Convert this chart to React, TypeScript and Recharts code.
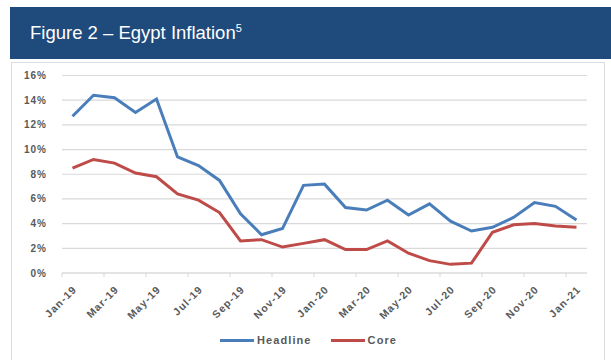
import React from "react";
import { LineChart, Line, XAxis, YAxis, CartesianGrid, Legend } from "recharts";

const months = [
  "Jan-19", "Feb-19", "Mar-19", "Apr-19", "May-19", "Jun-19", "Jul-19", "Aug-19", "Sep-19", "Oct-19", "Nov-19", "Dec-19",
  "Jan-20", "Feb-20", "Mar-20", "Apr-20", "May-20", "Jun-20", "Jul-20", "Aug-20", "Sep-20", "Oct-20", "Nov-20", "Dec-20",
  "Jan-21",
];
const headline = [12.7, 14.4, 14.2, 13.0, 14.1, 9.4, 8.7, 7.5, 4.8, 3.1, 3.6, 7.1, 7.2, 5.3, 5.1, 5.9, 4.7, 5.6, 4.2, 3.4, 3.7, 4.5, 5.7, 5.4, 4.3];
const core = [8.5, 9.2, 8.9, 8.1, 7.8, 6.4, 5.9, 4.9, 2.6, 2.7, 2.1, 2.4, 2.7, 1.9, 1.9, 2.6, 1.6, 1.0, 0.7, 0.8, 3.3, 3.9, 4.0, 3.8, 3.7];
const yTicks = [0, 2, 4, 6, 8, 10, 12, 14, 16];

const data = months.map((m, i) => ({ month: m, Headline: headline[i], Core: core[i] }));

const BLUE = "#4a7ebb";
const RED = "#be4b48";
const GRID = "#d9d9d9";
const TEXT = "#595959";
const FONT = "'Liberation Sans', Arial, sans-serif";
const HALF_STEP = 10.5;

const seriesList = [
  { key: "Headline", color: BLUE },
  { key: "Core", color: RED },
];

const XTick = (props: any) => {
  const { x, y, payload } = props;
  const tx = x + 5;
  const ty = y + 17;
  return (
    <g>
      <line x1={x - HALF_STEP} x2={x - HALF_STEP} y1={y} y2={y + 4} stroke={GRID} strokeWidth={1} />
      <text
        x={tx}
        y={ty}
        transform={`rotate(-45, ${tx}, ${ty})`}
        textAnchor="end"
        fill={TEXT}
        fontSize={10.5}
        fontWeight="bold"
        letterSpacing={1.1}
        fontFamily={FONT}
      >
        {payload.value}
      </text>
    </g>
  );
};

const LegendContent = () => {
  return (
    <div style={{ display: "flex", justifyContent: "center", alignItems: "center", paddingLeft: 6 }}>
      {seriesList.map((s, i) => (
        <div key={s.key} style={{ display: "flex", alignItems: "center", marginRight: i === 0 ? 19 : 0 }}>
          <div style={{ width: 34, height: 3, background: s.color, marginRight: 3 }} />
          <span style={{ fontFamily: FONT, fontSize: 11, fontWeight: "bold", color: TEXT, letterSpacing: 1.1, lineHeight: "14px" }}>
            {s.key}
          </span>
        </div>
      ))}
    </div>
  );
};

export default function App() {
  return (
    <div style={{ position: "absolute", left: 0, top: 0, width: 611, height: 360, background: "#fff", overflow: "hidden" }}>
      <div
        style={{
          position: "absolute",
          left: 10,
          top: 7,
          width: 601,
          height: 52,
          background: "#1f4a7c",
          color: "#fff",
          fontFamily: FONT,
          fontSize: 18.5,
          lineHeight: "52px",
          boxSizing: "border-box",
          paddingLeft: 20,
        }}
      >
        Figure 2 – Egypt Inflation<sup style={{ fontSize: 11, verticalAlign: "top", position: "relative", top: -5 }}>5</sup>
      </div>
      <div
        style={{
          position: "absolute",
          left: 11,
          top: 62,
          width: 594,
          height: 320,
          border: `1.5px solid #dcdcdc`,
          boxSizing: "border-box",
        }}
      />
      <div style={{ position: "absolute", left: 0, top: 0 }}>
        <LineChart width={611} height={360} data={data} margin={{ top: 75.5, right: 24, left: 12, bottom: 47 }}>
          <CartesianGrid vertical={false} stroke={GRID} strokeWidth={1.2} />
          <XAxis
            dataKey="month"
            interval={1}
            height={40}
            padding={{ left: HALF_STEP, right: HALF_STEP }}
            axisLine={{ stroke: GRID, strokeWidth: 1.2 }}
            tickLine={false}
            tickSize={0}
            tickMargin={0}
            tick={<XTick />}
          />
          <YAxis
            width={50}
            domain={[0, 16]}
            ticks={yTicks}
            interval={0}
            axisLine={false}
            tickLine={false}
            tickSize={0}
            tickMargin={15}
            tickFormatter={(v: number) => `${v}%`}
            tick={{ fill: TEXT, fontSize: 10, fontWeight: "bold", fontFamily: FONT, letterSpacing: 1 }}
          />
          <Legend
            layout="horizontal"
            verticalAlign="middle"
            align="center"
            wrapperStyle={{ position: "absolute", top: 333, left: 0, width: 611 }}
            content={<LegendContent />}
          />
          <Line type="linear" dataKey="Headline" stroke={BLUE} strokeWidth={3} dot={false} isAnimationActive={false} />
          <Line type="linear" dataKey="Core" stroke={RED} strokeWidth={3} dot={false} isAnimationActive={false} />
        </LineChart>
      </div>
    </div>
  );
}
